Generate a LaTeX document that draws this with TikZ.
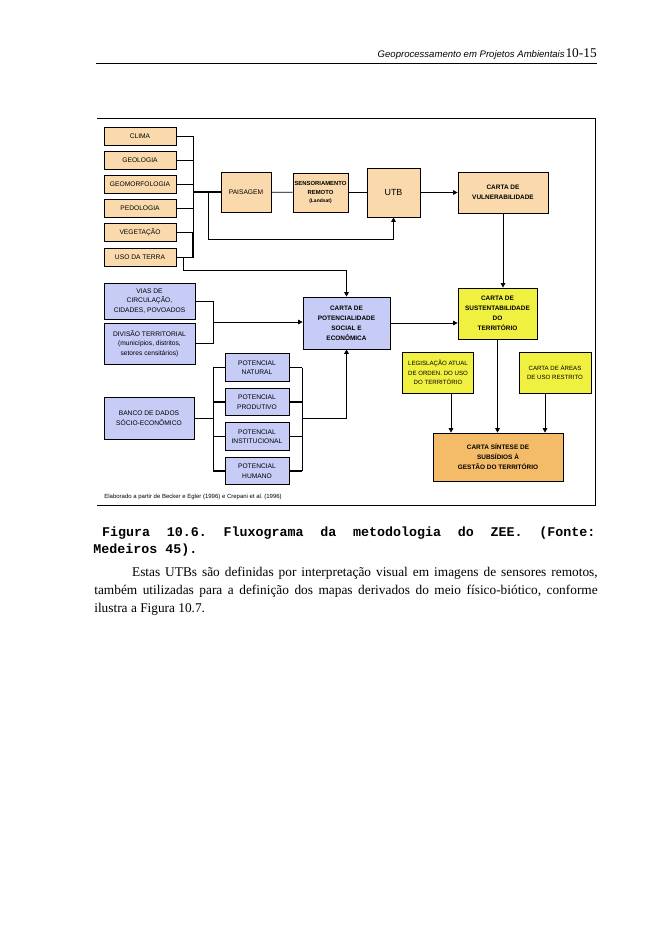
\documentclass[tikz,border=0pt]{standalone}
\usepackage{fontspec}
\setmainfont{Liberation Serif}
\newfontfamily\diagfont{Liberation Sans}
\newfontfamily\capfont{Liberation Mono}
\usetikzlibrary{arrows.meta}
\definecolor{tanbox}{RGB}{250,218,172}
\definecolor{bluebox}{RGB}{198,204,246}
\definecolor{yellowbox}{RGB}{240,240,64}
\definecolor{orangebox}{RGB}{244,188,104}
\newlength\pxu
\setlength\pxu{0.9pt}
\frenchspacing

\begin{document}
\begin{tikzpicture}[x=0.9pt,y=-0.9pt,>={Triangle[length=4pt,width=4pt]},line width=0.6pt,
  box/.style={draw,line width=0.6pt,inner sep=1pt,align=center,font=\diagfont\fontsize{6}{8.5}\selectfont},
  tema node/.style={box,fill=tanbox,minimum width=72\pxu,minimum height=18\pxu},
  socio node/.style={box,fill=bluebox,minimum width=91\pxu},
  potencial node/.style={box,fill=bluebox,minimum width=64\pxu,minimum height=27.5\pxu},
  legal node/.style={box,fill=yellowbox,minimum width=71\pxu,minimum height=41\pxu,font=\diagfont\fontsize{5.5}{8.5}\selectfont},
  carta node/.style={box,font=\diagfont\bfseries\fontsize{5.8}{9}\selectfont},
  heavy/.style={line width=1.6pt}]
    \fill[white] (0,0) rectangle (661,936);
    \useasboundingbox (0,0) rectangle (661,936);

    % cabecalho
    \node[anchor=base east,inner sep=0,font=\diagfont\itshape\fontsize{8.6}{10}\selectfont] (titulo) at (565,57) {Geoprocessamento em Projetos Ambientais};
    \node[anchor=base east,inner sep=0,font=\fontsize{12}{14}\selectfont] (pagina) at (597,57) {10-15};
    \draw (96,63) -- (597,63);

    % moldura
    \draw[line width=0.8pt] (97,118) -- (595,118) -- (595,505) -- (97,505);

    % meio fisico
    \node[tema node] (clima) at (140,136) {CLIMA};
    \node[tema node] (geologia) at (140,160) {GEOLOGIA};
    \node[tema node] (geomorf) at (140,184) {GEOMORFOLOGIA};
    \node[tema node] (pedologia) at (140,208) {PEDOLOGIA};
    \node[tema node] (vegetacao) at (140,232) {VEGETAÇÃO};
    \node[tema node] (uso) at (140,257) {USO DA TERRA};

    \node[tema node,minimum width=50\pxu,minimum height=40\pxu] (paisagem) at (246,192) {PAISAGEM};
    \node[tema node,minimum width=55\pxu,minimum height=39\pxu,font=\diagfont\bfseries\fontsize{5.3}{7.5}\selectfont] (sensor) at (320.5,192.5) {SENSORIAMENTO\\REMOTO\\{\fontsize{4.5}{7.5}\selectfont(Landsat)}};
    \node[tema node,minimum width=53\pxu,minimum height=49\pxu,font=\diagfont\fontsize{8}{10}\selectfont] (utb) at (393.5,192.5) {UTB};
    \node[carta node,fill=tanbox,minimum width=90\pxu,minimum height=41\pxu] (vulner) at (503,192.5) {CARTA DE\\VULNERABILIDADE};

    % meio socio-economico
    \node[socio node,minimum height=36\pxu] (vias) at (149.5,301) {VIAS DE\\CIRCULAÇÃO,\\CIDADES, POVOADOS};
    \node[socio node,minimum height=41\pxu] (divisao) at (149.5,343.5) {DIVISÃO TERRITORIAL\\(municípios, distritos,\\setores censitários)};
    \node[socio node,minimum width=90\pxu,minimum height=42\pxu] (banco) at (149,418) {BANCO DE DADOS\\SÓCIO-ECONÔMICO};

    \node[potencial node] (natural) at (257,367.5) {POTENCIAL\\NATURAL};
    \node[potencial node] (produtivo) at (257,402) {POTENCIAL\\PRODUTIVO};
    \node[potencial node] (institucional) at (257,436.5) {POTENCIAL\\INSTITUCIONAL};
    \node[potencial node] (humano) at (257,471) {POTENCIAL\\HUMANO};

    \node[carta node,fill=bluebox,minimum width=87\pxu,minimum height=52\pxu] (potsoc) at (346.5,323) {CARTA DE\\POTENCIALIDADE\\SOCIAL E\\ECONÔMICA};
    \node[carta node,fill=yellowbox,minimum width=79\pxu,minimum height=51\pxu] (sustent) at (497.5,313.5) {CARTA DE\\SUSTENTABILIDADE\\DO\\TERRITÓRIO};

    \node[legal node] (legis) at (438,372.5) {LEGISLAÇÃO ATUAL\\DE ORDEN. DO USO\\DO TERRITÓRIO};
    \node[legal node,minimum width=72\pxu] (areas) at (555,372.5) {CARTA DE ÁREAS\\DE USO RESTRITO};

    \node[carta node,fill=orangebox,minimum width=130\pxu,minimum height=48\pxu] (sintese) at (498,457) {CARTA SÍNTESE DE\\SUBSÍDIOS À\\GESTÃO DO TERRITÓRIO};

    \node[anchor=west,inner sep=0,font=\diagfont\fontsize{5.4}{6}\selectfont] (fonte) at (104,497) {Elaborado a partir de Becker e Egler (1996) e Crepani et al. (1996)};

    % pontos de juncao
    \coordinate (bus) at (193,192);
    \coordinate (fork) at (208,192);
    \coordinate (utbloop) at (208,239);
    \coordinate (usofork) at (183,257);
    \coordinate (usoloop) at (183,270);
    \coordinate (viasbus) at (213,322);
    \coordinate (potleft) at (213,418);
    \coordinate (potright) at (302,418);

    % ligacoes
    \draw (clima.east) -- (clima.east -| bus) -- (uso.east -| bus) -- (uso.east);
    \draw (geologia.east) -- (geologia.east -| bus);
    \draw (geomorf.east) -- (geomorf.east -| bus);
    \draw (pedologia.east) -- (pedologia.east -| bus);
    \draw (vegetacao.east) -- (vegetacao.east -| bus);
    \draw[heavy] (vegetacao.east -| bus) -- (uso.east -| bus);
    \draw[heavy] (bus) -- (paisagem.west);
    \draw[->] (fork) -- (utbloop) -| (utb.south);
    \draw[->] (usofork) -- (usoloop) -| (potsoc.north);

    \draw (paisagem) -- (sensor);
    \draw (sensor) -- (utb);
    \draw[->] (utb) -- (vulner);
    \draw[->] (vulner.south) -- (vulner.south |- sustent.north);

    \draw (vias.east) -- (vias.east -| viasbus) -- (divisao.east -| viasbus) -- (divisao.east);
    \draw[->] (viasbus) -- (viasbus -| potsoc.west);
    \draw[->] (potsoc.east) -- (potsoc.east -| sustent.west);

    \draw (banco.east) -- (potleft);
    \draw (natural.west -| potleft) -- (humano.west -| potleft);
    \draw (natural.west) -- (natural.west -| potleft);
    \draw[heavy] (produtivo.west) -- (produtivo.west -| potleft);
    \draw[heavy] (institucional.west) -- (institucional.west -| potleft);
    \draw[heavy] (humano.west) -- (humano.west -| potleft);
    \draw (natural.east -| potright) -- (humano.east -| potright);
    \draw (natural.east) -- (natural.east -| potright);
    \draw[heavy] (produtivo.east) -- (produtivo.east -| potright);
    \draw[heavy] (institucional.east) -- (institucional.east -| potright);
    \draw[heavy] (humano.east) -- (humano.east -| potright);
    \draw[->] (potright) -| (potsoc.south);

    \coordinate (legisout) at ([xshift=13\pxu]legis.south);
    \coordinate (areasout) at ([xshift=-10\pxu]areas.south);
    \draw[->] (legisout) -- (legisout |- sintese.north);
    \draw[heavy,->] (sustent.south) -- (sustent.south |- sintese.north);
    \draw[->] (areasout) -- (areasout |- sintese.north);

    % legenda e texto
    \node[anchor=north west,inner sep=0,text width=452pt,align=justify,font=\capfont\bfseries\fontsize{12}{15.5}\selectfont] (legenda) at (93,526) {\hspace*{8pt}Figura 10.6. Fluxograma da metodologia do ZEE. (Fonte:\linebreak Medeiros 45).};
    \node[anchor=north west,inner sep=0,text width=453pt,align=justify,font=\fontsize{12}{16.2}\selectfont] (texto) at (94,567) {\hspace*{34pt}Estas UTBs são definidas por interpretação visual em imagens de sensores remotos, também utilizadas para a definição dos mapas derivados do meio físico-biótico, conforme\linebreak ilustra a Figura 10.7.};
\end{tikzpicture}
\end{document}
